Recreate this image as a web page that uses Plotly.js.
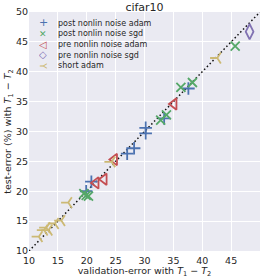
<!DOCTYPE html>
<html>
<head>
<meta charset="utf-8">
<script src="https://cdn.plot.ly/plotly-3.0.1.min.js"></script>
<style>html,body{margin:0;padding:0;background:#fff;}#chart{width:266px;height:278px;}</style>
</head>
<body>
<div id="chart"></div>
<script>
// ---- data ----
const seriesNames = ["post nonlin noise adam", "post nonlin noise sgd", "pre nonlin noise adam", "pre nonlin noise sgd", "short adam"];

const postAdamX = [37.6, 33.4, 30.2, 30.2, 28.2, 27.0, 20.8, 19.9];
const postAdamY = [37.2, 32.2, 30.6, 29.7, 27.2, 26.3, 21.6, 20.0];

const postSgdX = [45.7, 38.3, 36.3, 33.8, 32.8, 19.5, 19.9, 20.3];
const postSgdY = [44.3, 38.2, 37.4, 32.8, 31.9, 19.6, 19.3, 19.2];

const preAdamX = [35.1, 24.8, 23.0, 21.6];
const preAdamY = [34.6, 25.3, 22.0, 21.4];

const preSgdX = [48.2];
const preSgdY = [46.7];

const shortAdamX = [42.6, 24.3, 16.8, 15.6, 14.5, 13.0, 12.6, 13.4, 11.7];
const shortAdamY = [42.3, 24.9, 18.1, 15.1, 14.6, 13.9, 13.5, 13.5, 12.4];

const diagX = [10, 50];
const diagY = [10, 50];

const xTicks = [10, 15, 20, 25, 30, 35, 40, 45, 50];
const yTicks = [10, 15, 20, 25, 30, 35, 40, 45, 50];

// ---- styles ----
const colors = ["#4C72B0", "#55A868", "#C44E52", "#8172B2", "#CCB974"];
const symbols = ["cross-thin", "x-thin", "triangle-left-open", "diamond-tall-open", "y-left"];
const sizes = [9, 9, 10, 11, 9];
const xs = [postAdamX, postSgdX, preAdamX, preSgdX, shortAdamX];
const ys = [postAdamY, postSgdY, preAdamY, preSgdY, shortAdamY];

const traces = [{
  x: diagX, y: diagY, mode: "lines", type: "scatter",
  line: {color: "#111", width: 1.5, dash: "1.5px,2.5px"}, showlegend: false, hoverinfo: "skip"
}];
for (let i = 0; i < seriesNames.length; i++) {
  traces.push({
    x: xs[i], y: ys[i], mode: "markers", type: "scatter", name: seriesNames[i],
    marker: {symbol: symbols[i], size: sizes[i], color: colors[i],
             line: {color: colors[i], width: 1.8}},
    showlegend: false
  });
}

// manual legend (compact like matplotlib)
const legY = [0.955, 0.911, 0.866, 0.821, 0.777];
const legGlyph = ["+", "✕", "◁", "◇", "Y"];
const legGlyphSize = [11, 9, 10, 10, 9];
const legAngle = [0, 0, 0, 0, 90];
const annotations = [];
for (let i = 0; i < seriesNames.length; i++) {
  annotations.push({
    xref: "paper", yref: "paper", x: 0.061, y: legY[i], xanchor: "center", yanchor: "middle",
    text: legGlyph[i], showarrow: false, textangle: legAngle[i], height: 9,
    font: {family: "DejaVu Sans", size: legGlyphSize[i], color: colors[i]}
  });
  annotations.push({
    xref: "paper", yref: "paper", x: 0.118, y: legY[i], xanchor: "left", yanchor: "middle",
    text: seriesNames[i], showarrow: false, height: 10,
    font: {family: "DejaVu Sans", size: 8, color: "#262626"}
  });
}

const axisCommon = {
  range: [10, 50], tickvals: xTicks, ticktext: xTicks.map(String),
  showgrid: true, gridcolor: "#ffffff", gridwidth: 1,
  zeroline: false, showline: false, ticks: "",
  tickfont: {family: "DejaVu Sans", size: 9.5, color: "#262626"},
  fixedrange: true
};

const layout = {
  width: 266, height: 278,
  margin: {l: 29, r: 6, t: 12, b: 27, pad: 0},
  paper_bgcolor: "#ffffff", plot_bgcolor: "#EAEAF2",
  font: {family: "DejaVu Sans", color: "#262626"},
  title: {text: "cifar10", font: {family: "DejaVu Sans", size: 11, color: "#262626"},
          x: 0.5, xref: "paper", y: 1, yref: "paper", yanchor: "bottom", pad: {b: 1}},
  xaxis: Object.assign({}, axisCommon, {
    ticklabelstandoff: 2,
    title: {text: "validation-error with <i>T</i><sub>1</sub> − <i>T</i><sub>2</sub>",
            font: {family: "DejaVu Sans", size: 9.5, color: "#262626"}, standoff: 3}
  }),
  yaxis: Object.assign({}, axisCommon, {
    tickvals: yTicks, ticktext: yTicks.map(String),
    title: {text: "test-error (%) with <i>T</i><sub>1</sub> − <i>T</i><sub>2</sub>",
            font: {family: "DejaVu Sans", size: 9.5, color: "#262626"}, standoff: 2}
  }),
  annotations: annotations,
  showlegend: false
};

Plotly.newPlot("chart", traces, layout, {staticPlot: true, displayModeBar: false});
</script>
</body>
</html>
